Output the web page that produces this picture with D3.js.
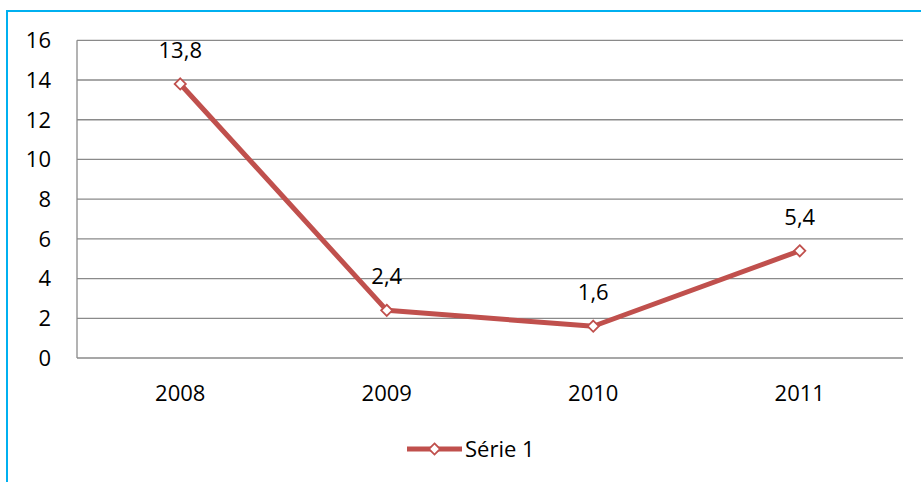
<!DOCTYPE html>
<html>
<head>
<meta charset="utf-8">
<script src="https://cdn.jsdelivr.net/npm/d3@7"></script>
<style>
  body { margin: 0; background: #fff; }
  text { font-family: "Open Sans", sans-serif; fill: #000; }
</style>
</head>
<body>
<script>
var years = ["2008", "2009", "2010", "2011"];
var values = [13.8, 2.4, 1.6, 5.4];
var labels = ["13,8", "2,4", "1,6", "5,4"];
var yTicks = [0, 2, 4, 6, 8, 10, 12, 14, 16];
var seriesName = "Série 1";

var width = 921, height = 482;
var red = "#c0504d";

var svg = d3.select("body").append("svg")
    .attr("width", width)
    .attr("height", height);

// border (only top and left visible)
svg.append("rect")
    .attr("x", 7).attr("y", 11)
    .attr("width", 1000).attr("height", 600)
    .attr("fill", "none")
    .attr("stroke", "#00b0f0")
    .attr("stroke-width", 2);

var x = d3.scaleBand().domain(years).range([77, 903]);
var y = d3.scaleLinear().domain([0, 16]).range([358, 40.3]);

// grid
svg.append("g").selectAll("line")
    .data(yTicks)
    .enter().append("line")
    .attr("x1", 77).attr("x2", 903)
    .attr("y1", function(d){ return y(d); })
    .attr("y2", function(d){ return y(d); })
    .attr("stroke", "#8a8a8a")
    .attr("stroke-width", 1.3);

svg.append("line")
    .attr("x1", 77).attr("x2", 77)
    .attr("y1", y(0)).attr("y2", y(16))
    .attr("stroke", "#8a8a8a")
    .attr("stroke-width", 1.3);

// y labels
svg.append("g").selectAll("text")
    .data(yTicks)
    .enter().append("text")
    .attr("x", 51)
    .attr("y", function(d){ return y(d); })
    .attr("dy", "0.36em")
    .attr("text-anchor", "end")
    .attr("font-size", 22)
    .text(function(d){ return d; });

// x labels
svg.append("g").selectAll("text")
    .data(years)
    .enter().append("text")
    .attr("x", function(d){ return x(d) + x.bandwidth()/2; })
    .attr("y", 401)
    .attr("text-anchor", "middle")
    .attr("font-size", 22)
    .text(function(d){ return d; });

var cx = function(d, i){ return x(years[i]) + x.bandwidth()/2; };

var line = d3.line()
    .x(function(d, i){ return cx(d, i); })
    .y(function(d){ return y(d); });

svg.append("path")
    .datum(values)
    .attr("d", line)
    .attr("fill", "none")
    .attr("stroke", red)
    .attr("stroke-width", 5)
    .attr("stroke-linejoin", "round");

var diamond = d3.symbol().type(d3.symbolDiamond2).size(80);

svg.append("g").selectAll("path")
    .data(values)
    .enter().append("path")
    .attr("d", diamond)
    .attr("transform", function(d, i){ return "translate(" + cx(d, i) + "," + y(d) + ")"; })
    .attr("fill", "#fff")
    .attr("stroke", red)
    .attr("stroke-width", 1.8);

// data labels
svg.append("g").selectAll("text")
    .data(values)
    .enter().append("text")
    .attr("x", function(d, i){ return cx(d, i); })
    .attr("y", function(d){ return y(d) - 34; })
    .attr("dy", "0.36em")
    .attr("text-anchor", "middle")
    .attr("font-size", 22)
    .text(function(d, i){ return labels[i]; });

// legend
var lg = svg.append("g");
lg.append("line")
    .attr("x1", 407).attr("x2", 462)
    .attr("y1", 449).attr("y2", 449)
    .attr("stroke", red).attr("stroke-width", 5);
lg.append("path")
    .attr("d", diamond)
    .attr("transform", "translate(434.5,449)")
    .attr("fill", "#fff")
    .attr("stroke", red)
    .attr("stroke-width", 1.8);
lg.append("text")
    .attr("x", 465).attr("y", 449)
    .attr("dy", "0.36em")
    .attr("font-size", 22)
    .text(seriesName);
</script>
</body>
</html>
